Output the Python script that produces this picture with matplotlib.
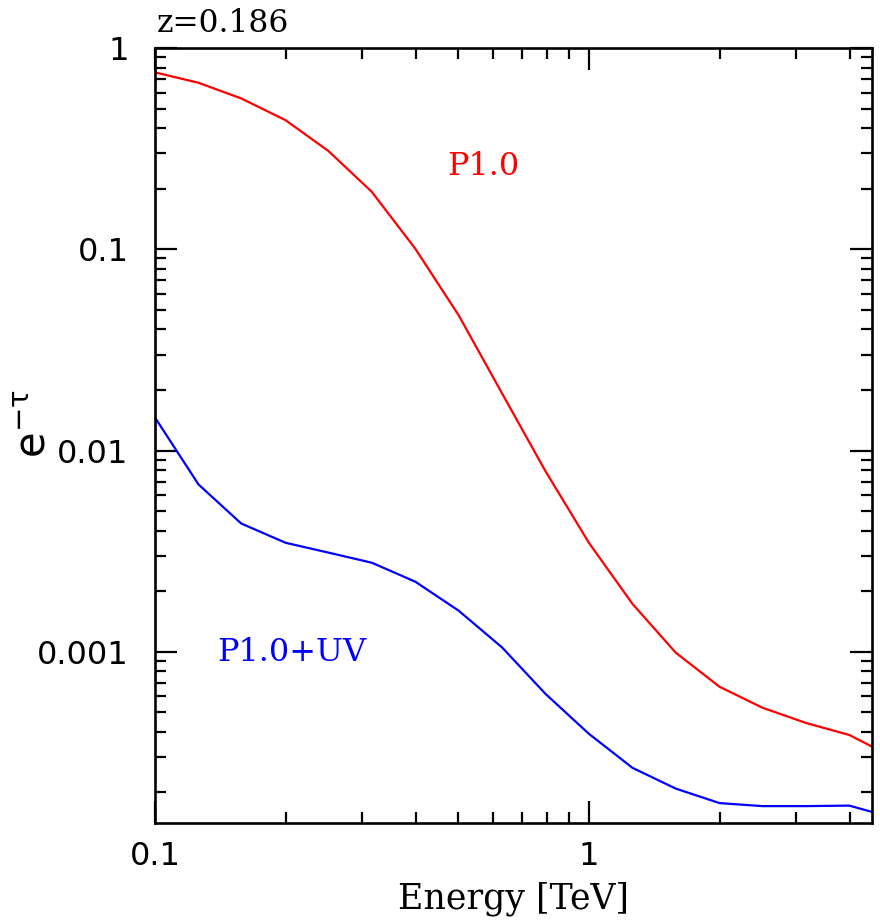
import matplotlib
matplotlib.use('Agg')
import matplotlib.pyplot as plt
from matplotlib import ticker

# energies in TeV (0.1 dex grid)
energy = [0.1, 0.126, 0.158, 0.2, 0.251, 0.316, 0.398, 0.501, 0.631, 0.794,
          1.0, 1.26, 1.585, 2.0, 2.512, 3.162, 3.981, 5.0]

# attenuation e^-tau
p10 = [0.757, 0.672, 0.562, 0.438, 0.308, 0.193, 0.1007, 0.047, 0.0192, 0.0079,
       0.00348, 0.00173, 0.00099, 0.00067, 0.000527, 0.000443, 0.000386, 0.0003]
p10_uv = [0.0146, 0.00678, 0.00434, 0.00348, 0.00311, 0.00277, 0.00223, 0.0016,
          0.00105, 0.000618, 0.000391, 0.000265, 0.000209, 0.000177, 0.000171,
          0.000171, 0.000172, 0.00015]

x_ticks = [0.1, 1]
y_ticks = [0.001, 0.01, 0.1, 1]

plt.rcParams['mathtext.default'] = 'regular'
plt.rcParams['font.serif'] = ['DejaVu Serif', 'Liberation Serif']

fig = plt.figure(figsize=(8.8, 9.22), dpi=100)
ax = fig.add_axes([0.1761, 0.1074, 0.8148, 0.8405])

ax.plot(energy, p10, color='#ff0000', lw=1.6)
ax.plot(energy, p10_uv, color='#0000ff', lw=1.6)

ax.set_xscale('log')
ax.set_yscale('log')
ax.set_xlim(0.1, 4.49)
ax.set_ylim(1.41e-4, 1.0)

ax.xaxis.set_major_locator(ticker.FixedLocator(x_ticks))
ax.yaxis.set_major_locator(ticker.FixedLocator(y_ticks))
ax.xaxis.set_minor_locator(ticker.LogLocator(subs=range(2, 10)))
ax.yaxis.set_minor_locator(ticker.LogLocator(subs=range(2, 10), numticks=20))
fmt = ticker.FuncFormatter(lambda v, _: f'{v:g}')
ax.xaxis.set_major_formatter(fmt)
ax.yaxis.set_major_formatter(fmt)
ax.xaxis.set_minor_formatter(ticker.NullFormatter())
ax.yaxis.set_minor_formatter(ticker.NullFormatter())

ax.tick_params(which='both', direction='in', top=True, right=True, width=1.6,
               labelsize=23, colors='black')
ax.tick_params(which='major', length=16)
ax.tick_params(which='minor', length=8)
ax.tick_params(axis='x', pad=13)
ax.tick_params(axis='y', pad=19)
for s in ax.spines.values():
    s.set_linewidth(1.9)

ax.set_xlabel('Energy [TeV]', fontsize=25, family='serif')
ax.xaxis.set_label_coords(0.5, -0.076)
ax.set_ylabel(r'$e^{-\tau}$', fontsize=30)
ax.yaxis.set_label_coords(-0.14, 0.515)

ax.text(0.003, 1.021, 'z=0.186', transform=ax.transAxes, fontsize=22.5,
        family='serif', ha='left', va='baseline')
ax.text(0.458, 0.8465, 'P1.0', transform=ax.transAxes, fontsize=23,
        family='serif', color='#ff0000', ha='center', va='center')
ax.text(0.191, 0.2206, 'P1.0+UV', transform=ax.transAxes, fontsize=23,
        family='serif', color='#0000ff', ha='center', va='center')

fig.savefig('out.png', dpi=100)
